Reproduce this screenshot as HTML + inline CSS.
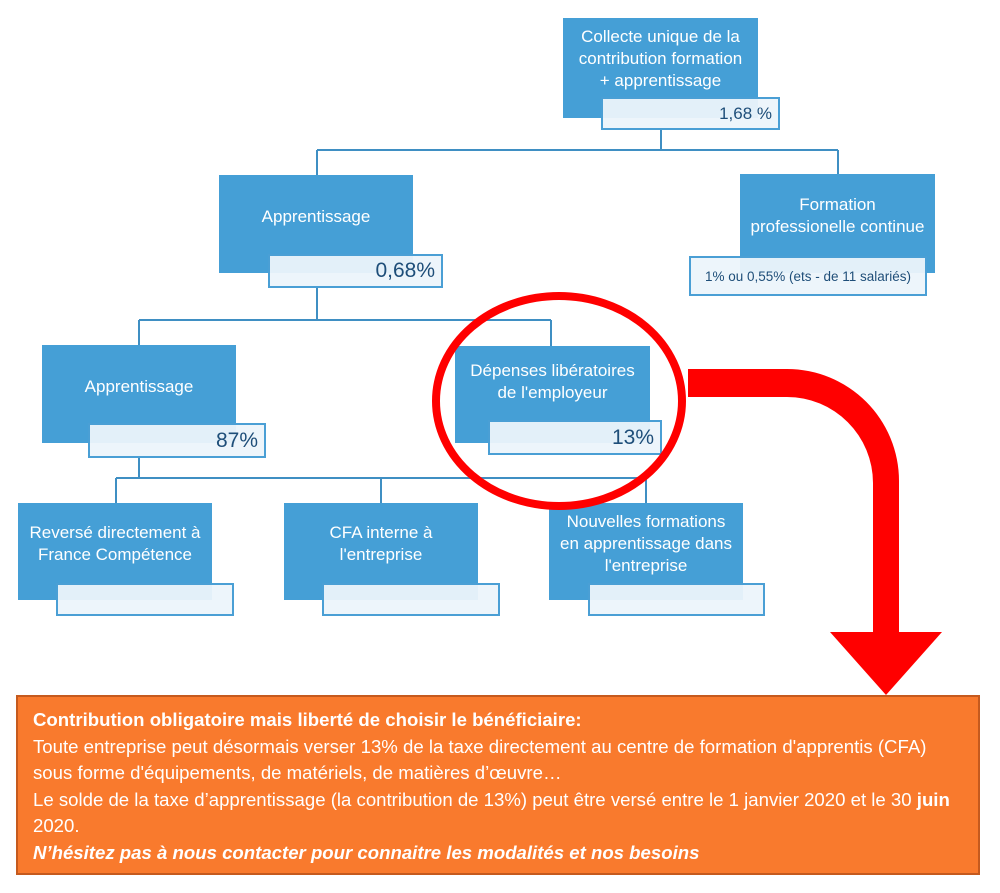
<!DOCTYPE html>
<html><head><meta charset="utf-8"><style>
body{margin:0;width:1000px;height:893px;background:#fff;position:relative;overflow:hidden;font-family:"Liberation Sans",sans-serif}
.b{position:absolute;background:#459FD6;color:#fff;font-size:17px;text-align:center;display:flex;align-items:center;justify-content:center;line-height:22px;box-sizing:border-box}
.l{position:absolute;background:rgba(236,244,251,0.95);border:2px solid #4A9FD5;box-sizing:border-box;color:#1E4E79;text-align:right;padding-right:6px;display:flex;align-items:center;justify-content:flex-end}
.ob{position:absolute;left:16px;top:695px;width:964px;height:180px;background:#F97A2D;border:2px solid #C55A1E;box-sizing:border-box;color:#fff;font-size:18.6px;line-height:26.5px;padding:10px 0 0 15px;white-space:nowrap}
</style></head><body>
<svg width="1000" height="893" style="position:absolute;left:0;top:0">
<g stroke="#3F8FC3" stroke-width="2" fill="none">
<path d="M661 130V150M317 150H838M317 150V176M838 150V176"/>
<path d="M317 288V320M139 320H551M139 320V346M551 320V346"/>
<path d="M139 458V478M116 478H646M116 478V503M381 478V503M646 478V503"/>
</g>
</svg>
<div class="b" style="left:563px;top:18px;width:195px;height:100px;padding-bottom:18px">Collecte unique de la<br>contribution formation<br>+ apprentissage</div>
<div class="l" style="left:601px;top:97px;width:179px;height:33px;font-size:17px">1,68 %</div>
<div class="b" style="left:740px;top:174px;width:195px;height:99px;padding-bottom:16px">Formation<br>professionelle continue</div>
<div class="l" style="left:689px;top:256px;width:238px;height:40px;font-size:13.5px;justify-content:center;padding:0">1% ou 0,55% (ets - de 11 salariés)</div>
<div class="b" style="left:219px;top:175px;width:194px;height:98px;padding-bottom:14px">Apprentissage</div>
<div class="l" style="left:268px;top:254px;width:175px;height:34px;font-size:21px">0,68%</div>
<div class="b" style="left:42px;top:345px;width:194px;height:98px;padding-bottom:14px">Apprentissage</div>
<div class="l" style="left:88px;top:423px;width:178px;height:35px;font-size:21px">87%</div>
<div class="b" style="left:455px;top:346px;width:195px;height:97px;padding-bottom:26px">Dépenses libératoires<br>de l'employeur</div>
<div class="l" style="left:488px;top:420px;width:174px;height:35px;font-size:21px">13%</div>
<div class="b" style="left:18px;top:503px;width:194px;height:97px;padding-bottom:16px">Reversé directement à<br>France Compétence</div>
<div class="l" style="left:56px;top:583px;width:178px;height:33px"></div>
<div class="b" style="left:284px;top:503px;width:194px;height:97px;padding-bottom:16px">CFA interne à<br>l'entreprise</div>
<div class="l" style="left:322px;top:583px;width:178px;height:33px"></div>
<div class="b" style="left:549px;top:503px;width:194px;height:97px;padding-bottom:16px">Nouvelles formations<br>en apprentissage dans<br>l'entreprise</div>
<div class="l" style="left:588px;top:583px;width:177px;height:33px"></div>
<svg width="1000" height="893" style="position:absolute;left:0;top:0">
<ellipse cx="559" cy="401" rx="123" ry="105" fill="none" stroke="#F00" stroke-width="8"/>
<path d="M688 369H787A112 112 0 0 1 899 481V632H942L886 695L830 632H873V483A86 86 0 0 0 787 397H688Z" fill="#F00"/>
</svg>
<div class="ob"><b>Contribution obligatoire mais liberté de choisir le bénéficiaire:</b><br>Toute entreprise peut désormais verser 13% de la taxe directement au centre de formation d'apprentis (CFA)<br>sous forme d'équipements, de matériels, de matières d’œuvre…<br>Le solde de la taxe d’apprentissage (la contribution de 13%) peut être versé entre le 1 janvier 2020 et le 30 <b>juin</b><br>2020.<br><b><i>N’hésitez pas à nous contacter pour connaitre les modalités et nos besoins</i></b></div>
</body></html>
